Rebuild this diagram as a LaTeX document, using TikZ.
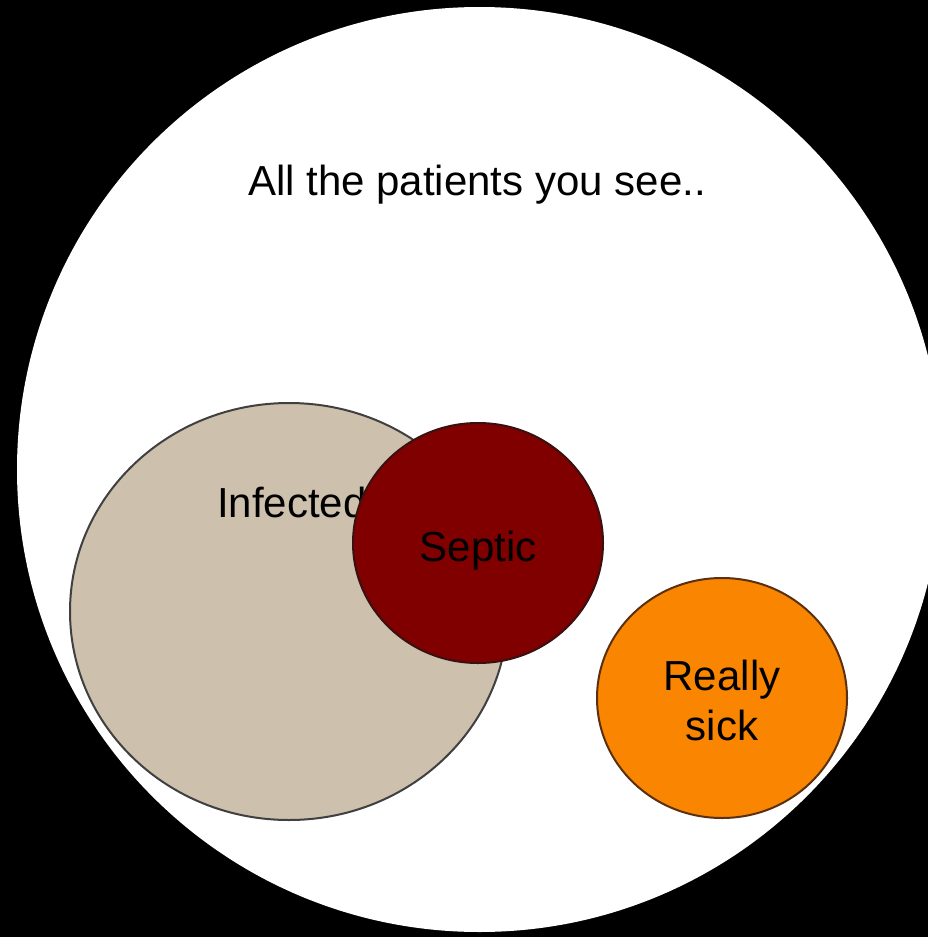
\documentclass[tikz,border=0pt]{standalone}
\usepackage{fontspec}
\setmainfont{Liberation Sans}
\usetikzlibrary{shapes.geometric}
\definecolor{tan}{HTML}{CDC0AD}
\definecolor{maroon}{HTML}{800000}
\definecolor{orng}{HTML}{F98500}
\definecolor{edgegray}{HTML}{404040}
\definecolor{edgered}{HTML}{3A1010}
\definecolor{edgebrown}{HTML}{5A3010}
\tikzset{
  blob/.style={ellipse, inner sep=0pt, line width=2pt},
  lbl/.style={font=\fontsize{42}{50}\selectfont, text=black, inner sep=0pt, align=center}
}
\begin{document}
\begin{tikzpicture}[x=1pt,y=-1pt]
\fill[black] (0,0) rectangle (928,937);
\useasboundingbox (0,0) rectangle (928,937);
\node[circle, fill=white, minimum size=925pt, inner sep=0pt] (all) at (479.5,469.5) {};
\node[lbl] (alltext) at (477,185) {All the patients you see..};
\node[blob, draw=edgegray, fill=tan, minimum width=438pt, minimum height=417pt] (inf) at (289,611.5) {};
\node[lbl, anchor=base west] (inftext) at (217,517) {Infected};
\node[blob, draw=edgered, fill=maroon, minimum width=250pt, minimum height=240pt] (sep) at (478,543) {};
\node[lbl, anchor=base] (septext) at (478,561) {Septic};
\node[blob, draw=edgebrown, fill=orng, minimum width=250pt, minimum height=240pt] (sick) at (722,698) {};
\node[lbl] (sicktext) at (722,700) {Really\\sick};
\end{tikzpicture}
\end{document}
